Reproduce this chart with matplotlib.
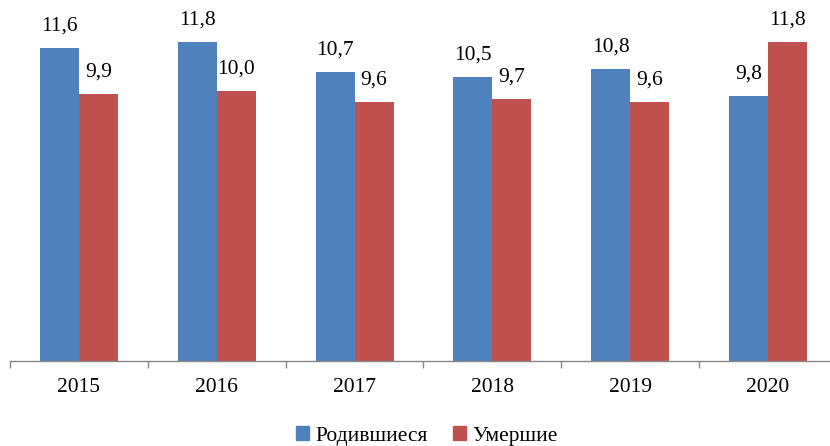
import matplotlib
matplotlib.use("Agg")
import matplotlib.pyplot as plt
from matplotlib.patches import Patch
import numpy as np

years = ["2015", "2016", "2017", "2018", "2019", "2020"]
born = [11.6, 11.8, 10.7, 10.5, 10.8, 9.8]
died = [9.9, 10.0, 9.6, 9.7, 9.6, 11.8]
series_names = ["Родившиеся", "Умершие"]

W, H = 830, 446
fig = plt.figure(figsize=(W / 100, H / 100), dpi=100)
plt.rcParams['font.family'] = ['Liberation Serif', 'DejaVu Serif']

ax = fig.add_axes([10 / W, 1 - 361 / H, 827 / W, 361 / H])
x = np.arange(len(years))
bw = 0.283
c_blue = "#4F81BD"
c_red = "#C0504D"
b1 = ax.bar(x - bw / 2, born, bw, color=c_blue)
b2 = ax.bar(x + bw / 2, died, bw, color=c_red)

for bars, vals in ((b1, born), (b2, died)):
    for r, v in zip(bars, vals):
        ax.annotate(f"{v:.1f}".replace(".", ","),
                    (r.get_x() + r.get_width() / 2, v),
                    xytext=(0, 9), textcoords="offset points",
                    ha="center", va="bottom", fontsize=15.5)

ax.set_xlim(-0.5, len(years) - 0.5)
ax.set_ylim(0, 13.37)
ax.set_yticks([])
for s in ("top", "right", "left"):
    ax.spines[s].set_visible(False)
ax.spines["bottom"].set_color("#868686")
ax.spines["bottom"].set_linewidth(1.0)
ax.set_xticks(x)
ax.set_xticklabels(years, fontsize=15.5)
ax.tick_params(axis="x", length=0, pad=12)
ax.set_xticks(np.arange(len(years) + 1) - 0.5, minor=True)
ax.tick_params(axis="x", which="minor", length=5, color="#868686", width=1.0)

handles = [Patch(color=c_blue), Patch(color=c_red)]
fig.legend(handles, series_names, loc="center", bbox_to_anchor=(427 / W, 1 - 436 / H),
           ncol=2, frameon=False, fontsize=15.5, handlelength=0.6, handleheight=0.6,
           handletextpad=0.3, columnspacing=1.2)

fig.savefig("out.png", dpi=100)
